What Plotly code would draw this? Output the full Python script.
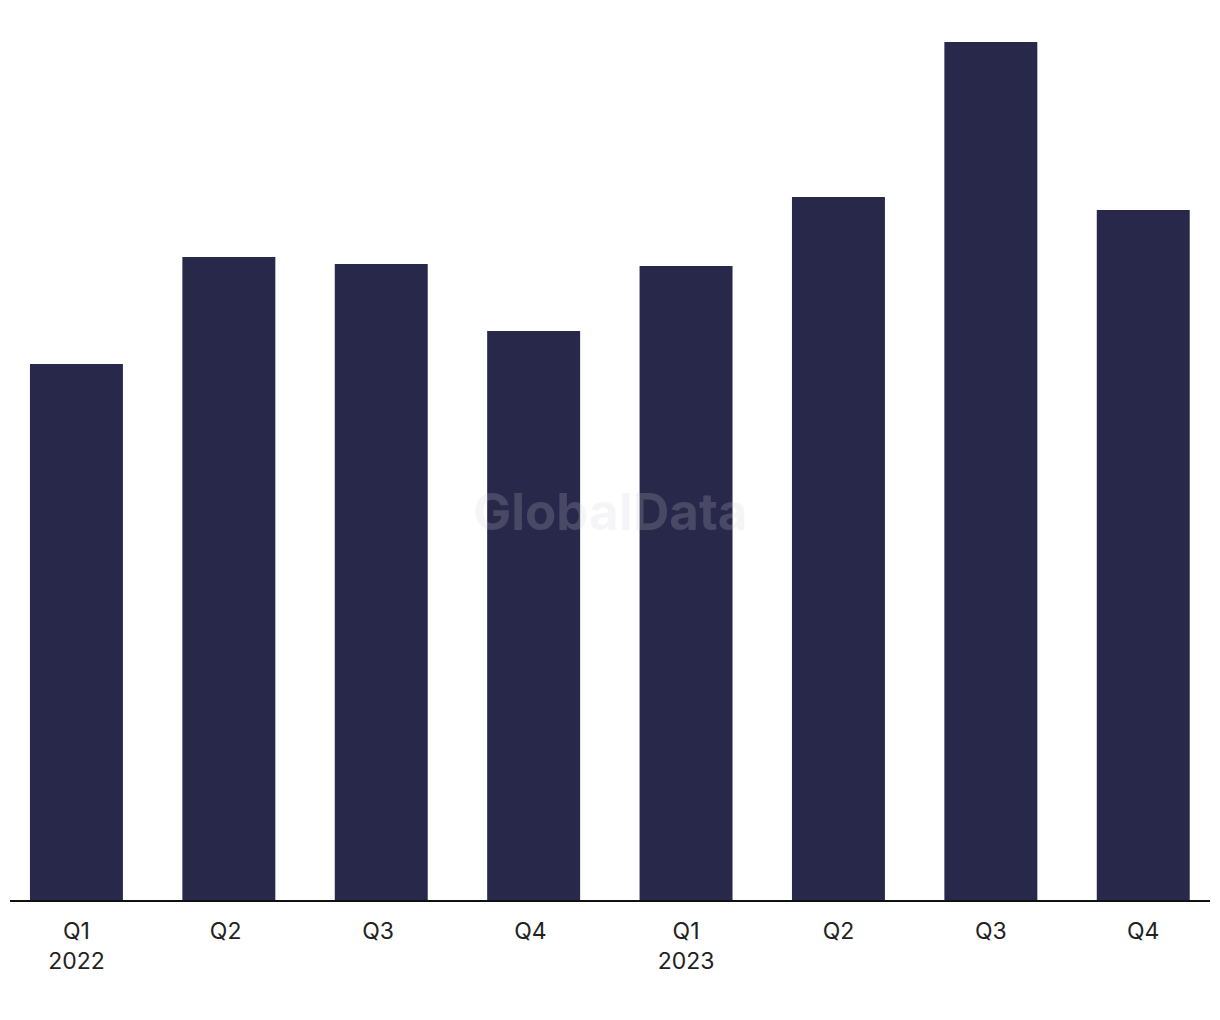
import plotly.graph_objects as go

categories = ["Q1<br>2022", "Q2 ", "Q3 ", "Q4 ", "Q1<br>2023", "Q2", "Q3", "Q4"]
values = [536, 643, 636, 569, 634, 703, 858, 690]

BAR = "#28284a"

fig = go.Figure(go.Bar(
    x=list(range(len(categories))),
    y=values,
    marker=dict(color=BAR, line=dict(width=0)),
    width=0.61,
    hoverinfo="skip",
))

fig.update_layout(
    width=1212, height=1012,
    margin=dict(l=2, r=10, t=12, b=120),
    paper_bgcolor="white", plot_bgcolor="white",
    showlegend=False,
    font=dict(family="Inter, Liberation Sans, sans-serif", size=23, color="#222222"),
    xaxis=dict(
        range=[-0.436, 7.438],
        tickmode="array",
        tickvals=list(range(len(categories))),
        ticktext=categories,
        showgrid=False, zeroline=False,
        showline=True, linecolor="#111111", linewidth=2,
        ticks="outside", ticklen=9, tickcolor="rgba(0,0,0,0)",
        fixedrange=True,
    ),
    yaxis=dict(
        range=[0, 880],
        visible=False, showgrid=False, zeroline=False,
        fixedrange=True,
    ),
    annotations=[dict(
        text="<b>GlobalData</b>", x=0.5, y=0.441, xref="paper", yref="paper",
        showarrow=False, font=dict(size=51, color="rgba(206,206,215,0.2)",
                                   family="Inter, Liberation Sans, sans-serif"),
    )],
)

fig.write_html("out.html")
